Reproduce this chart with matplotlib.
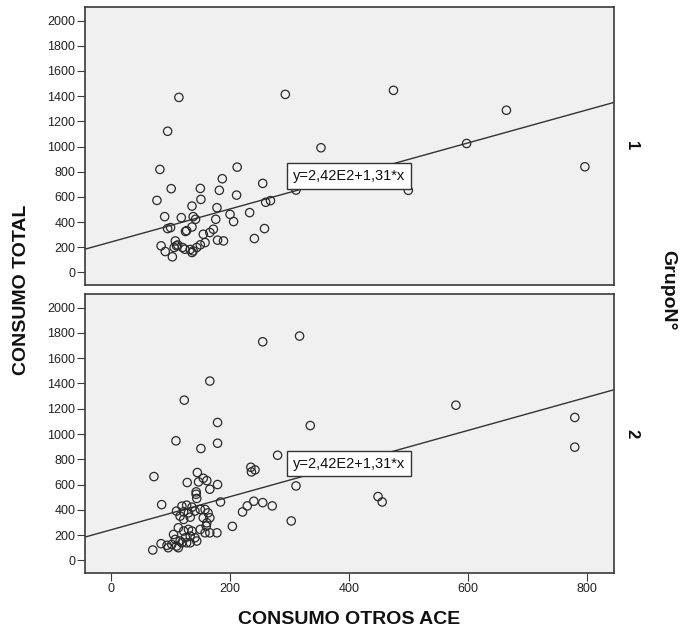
import matplotlib
matplotlib.use("Agg")
import matplotlib.pyplot as plt
import numpy as np

plt.rcParams['font.family'] = ['Liberation Sans', 'DejaVu Sans']

# Group 1: CONSUMO OTROS ACE vs CONSUMO TOTAL
g1_x = [114, 293, 475, 665, 598, 797, 95, 353, 500, 311, 82, 212, 187, 255, 101,
        150, 182, 211, 77, 151, 260, 268, 136, 178, 200, 206, 90, 118, 138, 142,
        176, 233, 258, 241, 136, 95, 100, 125, 127, 172, 166, 155, 179, 189, 158,
        150, 144, 138, 136, 84, 91, 103, 108, 110, 112, 106, 120, 124, 133]
g1_y = [1390, 1414, 1446, 1288, 1024, 839, 1121, 990, 652, 654, 818, 836, 744, 707, 665,
        667, 652, 614, 572, 580, 557, 570, 527, 514, 461, 404, 443, 435, 443, 422,
        422, 475, 348, 269, 361, 348, 356, 325, 332, 343, 317, 303, 256, 250, 237,
        219, 198, 171, 158, 211, 166, 124, 250, 211, 218, 198, 198, 184, 182]

# Group 2
g2_x = [255, 317, 166, 123, 580, 780, 780, 179, 335, 109, 179, 151, 280, 235, 242,
        236, 72, 145, 155, 161, 128, 147, 179, 166, 311, 143, 143, 144, 184, 85,
        449, 456, 240, 255, 271, 229, 221, 303, 204, 70, 84, 94,
        110, 119, 127, 136, 122, 130, 141, 150, 116, 133, 122, 158, 163, 155, 166,
        161, 160,
        105, 113, 122, 130, 136, 150, 158, 166, 178, 108, 116, 125, 133, 141, 102,
        110, 119, 96, 113, 127, 133, 144]
g2_y = [1730, 1775, 1419, 1268, 1228, 1131, 896, 1091, 1067, 946, 927, 885, 832, 737, 716,
        700, 663, 695, 650, 631, 616, 621, 600, 563, 589, 542, 523, 490, 462, 441,
        505, 462, 468, 457, 431, 431, 383, 312, 269, 82, 132, 119,
        390, 429, 437, 421, 384, 376, 390, 403, 350, 342, 324, 403, 376, 337, 337,
        297, 271,
        205, 258, 232, 245, 232, 245, 218, 218, 218, 166, 153, 179, 192, 179, 126,
        113, 139, 100, 100, 139, 139, 153]

# Fit line shared by both panels
intercept = 242.0
slope = 1.31
fit_label = "y=2,42E2+1,31*x"

groups = ["1", "2"]
y_ticks = list(range(0, 2001, 200))
x_ticks = [0, 200, 400, 600, 800]
xlim = (-44, 846)
ylim = (-100, 2108)

W, H = 685, 635
fig = plt.figure(figsize=(W / 100, H / 100), dpi=100)

panels = [
    (7, 285, g1_x, g1_y),
    (294, 573, g2_x, g2_y),
]
left_px, right_px = 85, 614
edge = '#3a3a3a'

for i, (top, bottom, xs, ys) in enumerate(panels):
    ax = fig.add_axes([left_px / W, 1 - bottom / H, (right_px - left_px) / W, (bottom - top) / H])
    ax.set_facecolor('#f0f0f0')
    ax.set_xlim(*xlim)
    ax.set_ylim(*ylim)
    for s in ax.spines.values():
        s.set_color(edge)
        s.set_linewidth(1.2)
    ax.set_yticks(y_ticks)
    ax.set_xticks(x_ticks)
    ax.tick_params(axis='both', direction='out', length=5.5, width=0.8, color=edge,
                   labelsize=9, pad=1.5, labelcolor='#222222')
    if i == 0:
        ax.tick_params(axis='x', bottom=False, labelbottom=False)

    lx = np.array(xlim, dtype=float)
    ax.plot(lx, intercept + slope * lx, color='#333333', lw=1.0, zorder=2)
    ax.scatter(xs, ys, s=36, facecolors='none', edgecolors='#2a2a2a', linewidths=0.9, zorder=3)

    ax.text(400, intercept + slope * 400, fit_label, ha='center', va='center', fontsize=10.5,
            color='#111111', zorder=4,
            bbox=dict(boxstyle='square,pad=0.38', fc='white', ec='#333333', lw=1.0))

    fig.text(632 / W, 1 - ((top + bottom) / 2) / H, groups[i], rotation=-90,
             ha='center', va='center', fontsize=12, fontweight='bold', color='#111111')

fig.text(22 / W, 1 - 290 / H, 'CONSUMO TOTAL', rotation=90, ha='center', va='center',
         fontsize=14, fontweight='bold', color='#111111')
fig.text(349.5 / W, 1 - 620 / H, 'CONSUMO OTROS ACE', ha='center', va='center',
         fontsize=14, fontweight='bold', color='#111111')
fig.text(668 / W, 1 - 290 / H, 'GrupoN°', rotation=-90, ha='center', va='center',
         fontsize=14, fontweight='bold', color='#111111')

fig.savefig('out.png', dpi=100)
